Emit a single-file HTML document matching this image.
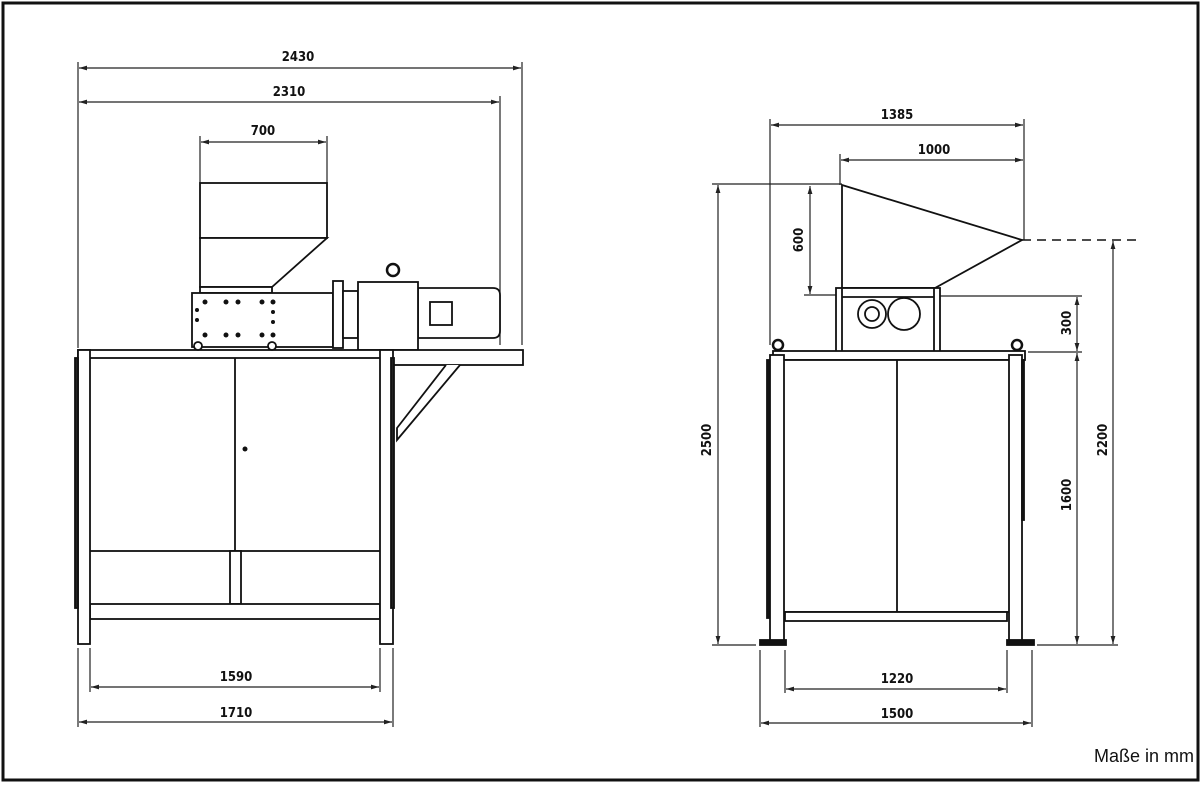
<!DOCTYPE html>
<html><head><meta charset="utf-8"><style>
html,body{margin:0;padding:0;background:#fff;}
svg{display:block;}
text{font-family:"DejaVu Sans Condensed","Liberation Sans",sans-serif;font-size:13px;fill:#111;font-weight:600;}
</style></head><body>
<svg width="1204" height="786" viewBox="0 0 1204 786" xmlns="http://www.w3.org/2000/svg">
<defs>
<marker id="a" viewBox="0 0 10 6" refX="10" refY="3" markerWidth="8" markerHeight="4" orient="auto-start-reverse"><path d="M0,0L10,3L0,6z" fill="#222"/></marker>
</defs>
<rect x="3" y="3" width="1195" height="777" fill="#fff" stroke="#111" stroke-width="3"/>

<g stroke="#222" stroke-width="1.2" fill="none">
<line x1="78" y1="62" x2="78" y2="348"/><line x1="522" y1="62" x2="522" y2="345"/>
<line x1="500" y1="96" x2="500" y2="345"/>
<line x1="200" y1="136" x2="200" y2="183"/><line x1="327" y1="136" x2="327" y2="183"/>
<line x1="79" y1="68" x2="521" y2="68" marker-start="url(#a)" marker-end="url(#a)"/>
<line x1="79" y1="102" x2="499" y2="102" marker-start="url(#a)" marker-end="url(#a)"/>
<line x1="201" y1="142" x2="326" y2="142" marker-start="url(#a)" marker-end="url(#a)"/>
<line x1="90" y1="648" x2="90" y2="692"/><line x1="380" y1="648" x2="380" y2="692"/>
<line x1="78" y1="648" x2="78" y2="727"/><line x1="393" y1="648" x2="393" y2="727"/>
<line x1="91" y1="687" x2="379" y2="687" marker-start="url(#a)" marker-end="url(#a)"/>
<line x1="79" y1="722" x2="392" y2="722" marker-start="url(#a)" marker-end="url(#a)"/>
<line x1="770" y1="119" x2="770" y2="345"/><line x1="1024" y1="119" x2="1024" y2="240"/>
<line x1="840" y1="154" x2="840" y2="185"/>
<line x1="771" y1="125" x2="1023" y2="125" marker-start="url(#a)" marker-end="url(#a)"/>
<line x1="841" y1="160" x2="1023" y2="160" marker-start="url(#a)" marker-end="url(#a)"/>
<line x1="712" y1="184" x2="842" y2="184"/>
<line x1="718" y1="185" x2="718" y2="644" marker-start="url(#a)" marker-end="url(#a)"/>
<line x1="712" y1="645" x2="756" y2="645"/>
<line x1="804" y1="295" x2="836" y2="295"/>
<line x1="810" y1="186" x2="810" y2="294" marker-start="url(#a)" marker-end="url(#a)"/>
<line x1="940" y1="296" x2="1082" y2="296"/>
<line x1="1028" y1="352" x2="1082" y2="352"/>
<line x1="1077" y1="297" x2="1077" y2="351" marker-start="url(#a)" marker-end="url(#a)"/>
<line x1="1077" y1="353" x2="1077" y2="644" marker-start="url(#a)" marker-end="url(#a)"/>
<line x1="1037" y1="645" x2="1118" y2="645"/>
<line x1="1113" y1="241" x2="1113" y2="644" marker-start="url(#a)" marker-end="url(#a)"/>
<line x1="785" y1="650" x2="785" y2="693"/><line x1="1007" y1="650" x2="1007" y2="693"/>
<line x1="760" y1="650" x2="760" y2="727"/><line x1="1032" y1="650" x2="1032" y2="727"/>
<line x1="786" y1="689" x2="1006" y2="689" marker-start="url(#a)" marker-end="url(#a)"/>
<line x1="761" y1="723" x2="1031" y2="723" marker-start="url(#a)" marker-end="url(#a)"/>
<line x1="842" y1="240" x2="1140" y2="240" stroke="#111" stroke-width="1.5" stroke-dasharray="9,6"/>
</g>

<g fill="#fff" stroke="#111" stroke-width="1.8">
<rect x="200" y="183" width="127" height="55"/>
<path d="M200,238 L327,238 L272,287 L200,287 Z"/>
<rect x="200" y="287" width="72" height="6"/>
<rect x="192" y="293" width="141" height="54"/>
<rect x="333" y="281" width="10" height="67"/>
<rect x="343" y="291" width="15" height="47"/>
<path d="M418,288 L493,288 Q500,288 500,295 L500,331 Q500,338 493,338 L418,338 Z"/>
<rect x="430" y="302" width="22" height="23"/>
<rect x="358" y="282" width="60" height="68"/>
<circle cx="393" cy="270" r="6" stroke-width="2.5"/>
<rect x="78" y="350" width="445" height="15"/>
<path d="M460,365 L397,440 L397,428 L446,365" />
<rect x="84" y="358" width="301" height="193"/>
<line x1="235" y1="358" x2="235" y2="551"/>
<rect x="230" y="551" width="11" height="53"/>
<rect x="90" y="604" width="290" height="15"/>
<rect x="78" y="350" width="12" height="294"/>
<rect x="380" y="350" width="13" height="294"/>
<rect x="75" y="358" width="3" height="250" fill="#222"/>
<rect x="391" y="358" width="3" height="250" fill="#222"/>
<circle cx="198" cy="346" r="4"/><circle cx="272" cy="346" r="4"/>
<path d="M842,185 L1022,240 L935,288 L842,288 Z"/>
<rect x="836" y="288" width="104" height="64"/>
<rect x="842" y="288" width="92" height="64"/>
<line x1="842" y1="297" x2="934" y2="297"/>
<circle cx="872" cy="314" r="14"/><circle cx="872" cy="314" r="7"/>
<circle cx="904" cy="314" r="16"/>
<rect x="773" y="351" width="252" height="9"/>
<circle cx="778" cy="345" r="5" stroke-width="2.5"/><circle cx="1017" cy="345" r="5" stroke-width="2.5"/>
<rect x="780" y="360" width="235" height="252"/>
<line x1="897" y1="360" x2="897" y2="612"/>
<rect x="785" y="612" width="222" height="9"/>
<rect x="770" y="355" width="14" height="288"/>
<rect x="1009" y="355" width="13" height="288"/>
<rect x="767" y="360" width="2" height="258" fill="#222"/>
<rect x="1022" y="360" width="2" height="160" fill="#222"/>
<rect x="760" y="640" width="26" height="5" fill="#111"/>
<rect x="1007" y="640" width="27" height="5" fill="#111"/>
</g>
<g fill="#111">
<circle cx="245" cy="449" r="2.5"/>
<circle cx="205" cy="302" r="2.5"/><circle cx="226" cy="302" r="2.5"/><circle cx="238" cy="302" r="2.5"/><circle cx="262" cy="302" r="2.5"/><circle cx="273" cy="302" r="2.5"/>
<circle cx="205" cy="335" r="2.5"/><circle cx="226" cy="335" r="2.5"/><circle cx="238" cy="335" r="2.5"/><circle cx="262" cy="335" r="2.5"/><circle cx="273" cy="335" r="2.5"/>
<circle cx="197" cy="310" r="2"/><circle cx="197" cy="320" r="2"/><circle cx="273" cy="312" r="2"/><circle cx="273" cy="322" r="2"/>
</g>

<text x="298" y="61" text-anchor="middle">2430</text>
<text x="289" y="96" text-anchor="middle">2310</text>
<text x="263" y="135" text-anchor="middle">700</text>
<text x="236" y="681" text-anchor="middle">1590</text>
<text x="236" y="717" text-anchor="middle">1710</text>
<text x="897" y="119" text-anchor="middle">1385</text>
<text x="934" y="154" text-anchor="middle">1000</text>
<text x="897" y="683" text-anchor="middle">1220</text>
<text x="897" y="718" text-anchor="middle">1500</text>
<text transform="translate(711,440) rotate(-90)" text-anchor="middle">2500</text>
<text transform="translate(803,240) rotate(-90)" text-anchor="middle">600</text>
<text transform="translate(1071,323) rotate(-90)" text-anchor="middle">300</text>
<text transform="translate(1071,495) rotate(-90)" text-anchor="middle">1600</text>
<text transform="translate(1107,440) rotate(-90)" text-anchor="middle">2200</text>
<text x="1194" y="762" text-anchor="end" style="font-family:'Liberation Sans',sans-serif;font-size:18px;font-weight:normal">Maße in mm</text>
</svg>
</body></html>
